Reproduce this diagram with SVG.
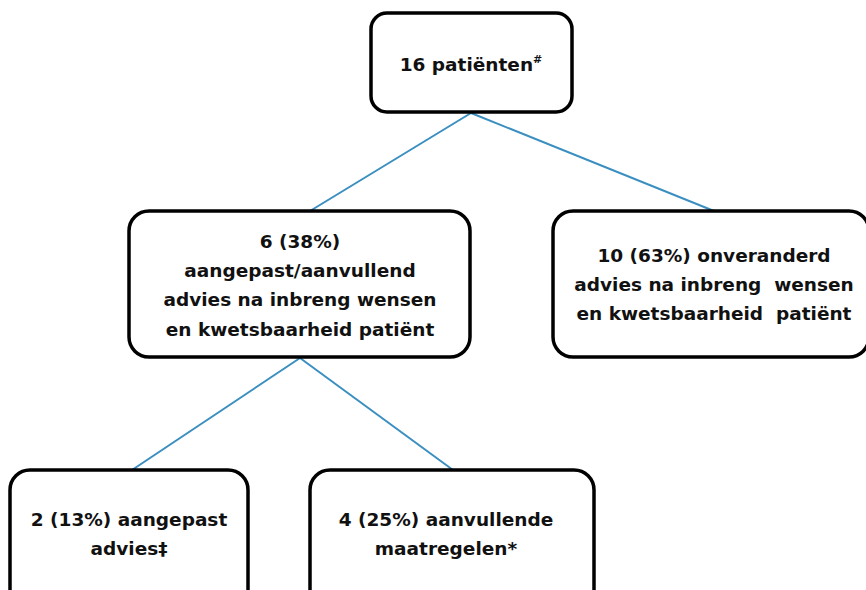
<svg xmlns="http://www.w3.org/2000/svg" width="866" height="590" viewBox="0 0 866 590">
<style>
.box{fill:#fff;stroke:#000;stroke-width:3.5}
.t{font-family:"DejaVu Sans",Verdana,sans-serif;font-size:18.5px;font-weight:bold;fill:#111;text-anchor:middle;white-space:pre}
.c{stroke:#3a8fc0;stroke-width:2;fill:none}
</style>
<rect width="866" height="590" fill="#fff"/>
<g id="connectors">
<line class="c" x1="471" y1="113" x2="310" y2="211"/>
<line class="c" x1="471" y1="113" x2="714" y2="211"/>
<line class="c" x1="300" y1="358" x2="132" y2="470"/>
<line class="c" x1="300" y1="358" x2="453" y2="470"/>
</g>
<g id="n16">
<rect class="box" x="371" y="13" width="201" height="99" rx="16"/>
<text class="t" x="471" y="71">16 patiënten<tspan font-size="11" dy="-8">#</tspan></text>
</g>
<g id="n6">
<rect class="box" x="129" y="211" width="341" height="146" rx="20"/>
<text class="t" x="300" y="248">6 (38%)</text>
<text class="t" x="300" y="277">aangepast/aanvullend</text>
<text class="t" x="300" y="306">advies na inbreng wensen</text>
<text class="t" x="300" y="336">en kwetsbaarheid patiënt</text>
</g>
<g id="n10">
<rect class="box" x="553" y="211" width="316" height="146" rx="20"/>
<text class="t" x="714" y="262">10 (63%) onveranderd</text>
<text class="t" x="714" y="291" xml:space="preserve">advies na inbreng  wensen</text>
<text class="t" x="714" y="320" xml:space="preserve">en kwetsbaarheid  patiënt</text>
</g>
<g id="n2">
<rect class="box" x="10" y="470" width="238" height="140" rx="20"/>
<text class="t" x="129" y="526">2 (13%) aangepast</text>
<text class="t" x="129" y="555">advies‡</text>
</g>
<g id="n4">
<rect class="box" x="310" y="470" width="284" height="140" rx="20"/>
<text class="t" x="446" y="526">4 (25%) aanvullende</text>
<text class="t" x="446" y="555">maatregelen*</text>
</g>
</svg>
